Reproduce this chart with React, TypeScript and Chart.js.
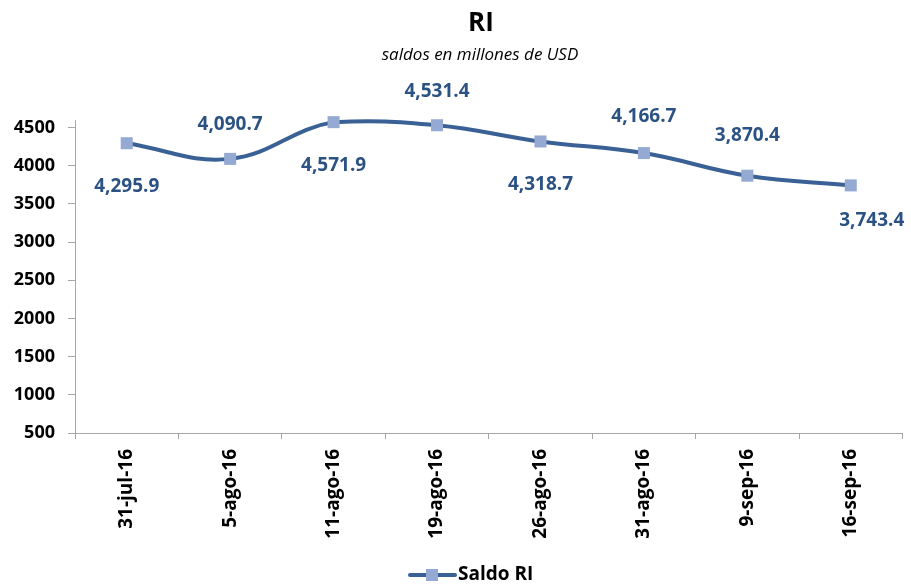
import React, { useEffect, useRef } from 'react';
import { Chart, registerables } from 'chart.js';

Chart.register(...registerables);

const categories = ['31-jul-16', '5-ago-16', '11-ago-16', '19-ago-16', '26-ago-16', '31-ago-16', '9-sep-16', '16-sep-16'];
const saldoRI = [4295.9, 4090.7, 4571.9, 4531.4, 4318.7, 4166.7, 3870.4, 3743.4];
const yTickValues = [500, 1000, 1500, 2000, 2500, 3000, 3500, 4000, 4500];
const titleText = 'RI';
const subtitleText = 'saldos en millones de USD';
const seriesName = 'Saldo RI';
// label offsets from the point [dx, dy] (style only)
const labelOffsets: [number, number][] = [
  [0, 43], [0, -34], [0, 43], [0, -34], [0, 43], [0, -36], [0, -40], [21, 35],
];

const LINE_COLOR = '#3A6196';
const MARKER_COLOR = '#95AAD3';
const LABEL_COLOR = '#2B5283';
const AXIS_COLOR = '#A6A6A6';
const FONT = '"Open Sans", "Noto Sans", sans-serif';

const decorPlugin = {
  id: 'decor',
  afterDatasetsDraw(chart: any) {
    const ctx = chart.ctx;
    const meta = chart.getDatasetMeta(0);
    ctx.save();
    ctx.fillStyle = LABEL_COLOR;
    ctx.font = `bold 19px ${FONT}`;
    ctx.textAlign = 'center';
    ctx.textBaseline = 'middle';
    meta.data.forEach((pt: any, i: number) => {
      const v = saldoRI[i];
      const txt = v.toLocaleString('en-US', { minimumFractionDigits: 1, maximumFractionDigits: 1 });
      const [dx, dy] = labelOffsets[i];
      ctx.fillText(txt, pt.x + dx, pt.y + dy);
    });
    ctx.restore();
  },
  afterDraw(chart: any) {
    const ctx = chart.ctx;
    ctx.save();
    ctx.fillStyle = '#000';
    ctx.textAlign = 'center';
    ctx.textBaseline = 'middle';
    ctx.font = `bold 26px ${FONT}`;
    ctx.fillText(titleText, 481, 24);
    ctx.font = `italic 17px ${FONT}`;
    ctx.fillText(subtitleText, 480, 55);
    // legend
    const ly = 575;
    ctx.strokeStyle = LINE_COLOR;
    ctx.lineWidth = 4;
    ctx.lineCap = 'round';
    ctx.beginPath();
    ctx.moveTo(410, ly);
    ctx.lineTo(455, ly);
    ctx.stroke();
    ctx.fillStyle = MARKER_COLOR;
    ctx.fillRect(426, ly - 6, 12, 12);
    ctx.fillStyle = '#000';
    ctx.textAlign = 'left';
    ctx.font = `bold 19px ${FONT}`;
    ctx.fillText(seriesName, 458, ly);
    ctx.restore();
  },
};

export default function App() {
  const ref = useRef<HTMLCanvasElement>(null);
  useEffect(() => {
    document.body.style.margin = '0';
    if (!ref.current) return;
    const chart = new Chart(ref.current, {
      type: 'line',
      data: {
        labels: categories,
        datasets: [
          {
            label: seriesName,
            data: saldoRI,
            borderColor: LINE_COLOR,
            borderWidth: 4,
            tension: 0.4,
            pointStyle: 'rect',
            pointRadius: 8.5,
            pointBackgroundColor: MARKER_COLOR,
            pointBorderColor: MARKER_COLOR,
            pointBorderWidth: 0,
            clip: false as any,
          },
        ],
      },
      options: {
        animation: false,
        responsive: false,
        layout: { padding: { top: 120, right: 0, bottom: 33, left: 0 } },
        plugins: {
          legend: { display: false },
          title: { display: false },
          tooltip: { enabled: false },
        },
        scales: {
          x: {
            offset: true,
            grid: { offset: true, drawOnChartArea: false, tickLength: 6, color: AXIS_COLOR },
            border: { color: AXIS_COLOR, width: 1 },
            ticks: {
              minRotation: 90,
              maxRotation: 90,
              padding: 10,
              color: '#000',
              font: { family: FONT, size: 19, weight: 'bold' },
            },
            afterFit: (s: any) => { s.height = 120; },
          },
          y: {
            min: 500,
            max: 4600,
            afterBuildTicks: (s: any) => { s.ticks = yTickValues.map((v) => ({ value: v })); },
            grid: { drawOnChartArea: false, tickLength: 7, color: AXIS_COLOR },
            border: { color: AXIS_COLOR, width: 1 },
            ticks: {
              padding: 13,
              color: '#000',
              font: { family: FONT, size: 18, weight: 'bold' },
              callback: (v: any) => String(v),
            },
            afterFit: (s: any) => { s.width = 75; },
          },
        },
      },
      plugins: [decorPlugin],
    });
    return () => chart.destroy();
  }, []);
  return (
    <div style={{ width: 911, height: 586 }}>
      <canvas ref={ref} width={911} height={586} />
    </div>
  );
}
